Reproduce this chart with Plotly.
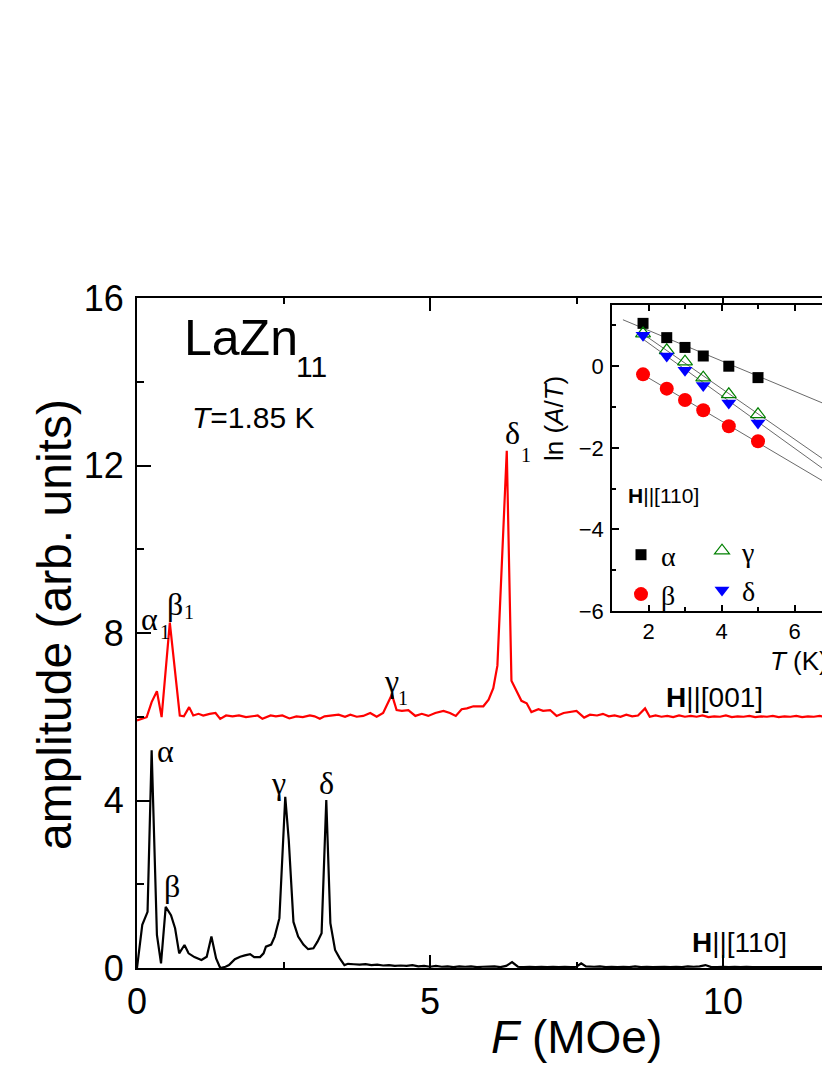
import numpy as np
import plotly.graph_objects as go

# ---- main panel: FFT spectra, F in MOe ----
f_110 = [0.00, 0.09, 0.18, 0.25, 0.34, 0.41, 0.49, 0.58, 0.65, 0.72, 0.81, 0.88, 0.98, 1.10,
         1.19, 1.27, 1.35, 1.42, 1.51, 1.57, 1.67, 1.76, 1.84, 1.93, 2.00, 2.10, 2.16, 2.20,
         2.29, 2.35, 2.43, 2.53, 2.59, 2.67, 2.75, 2.84, 2.92, 3.01, 3.08, 3.15, 3.23, 3.30,
         3.38, 3.46, 3.54, 3.60, 3.70, 3.80, 3.90, 4.00, 4.10, 4.20, 4.30, 4.40, 4.50, 4.60,
         4.70, 4.80, 4.90, 5.00, 5.10, 5.20, 5.30, 5.40, 5.50, 5.60, 5.70, 5.80, 5.90, 6.00,
         6.10, 6.20, 6.30, 6.40, 6.50, 6.60, 6.70, 6.80, 6.90, 7.00, 7.10, 7.20, 7.30, 7.40,
         7.50, 7.58, 7.66, 7.80, 7.90, 8.00, 8.10, 8.20, 8.30, 8.40, 8.50, 8.60, 8.70, 8.80,
         8.90, 9.00, 9.10, 9.20, 9.30, 9.40, 9.50, 9.60, 9.70, 9.80, 9.90, 10.0, 10.1, 10.2,
         10.3, 10.4, 10.5, 10.6, 10.7, 10.8, 10.9, 11.0, 11.1, 11.2, 11.3, 11.4, 11.5, 11.6,
         11.7, 11.8, 11.9]
amp_110 = [0.00, 1.03, 1.34, 5.20, 0.79, 0.11, 1.46, 1.26, 0.95, 0.35, 0.55, 0.35, 0.26, 0.19,
           0.27, 0.75, 0.23, 0.00, 0.03, 0.07, 0.21, 0.27, 0.30, 0.33, 0.26, 0.26, 0.35, 0.51,
           0.56, 0.75, 1.19, 4.09, 3.05, 1.10, 0.75, 0.56, 0.45, 0.47, 0.63, 0.83, 4.01, 1.07,
           0.43, 0.23, 0.07, 0.10, 0.09, 0.08, 0.09, 0.07, 0.08, 0.06, 0.07, 0.05, 0.06, 0.05,
           0.07, 0.04, 0.05, 0.03, 0.05, 0.03, 0.04, 0.02, 0.04, 0.03, 0.04, 0.02, 0.03, 0.03,
           0.04, 0.02, 0.05, 0.14, 0.03, 0.02, 0.03, 0.02, 0.03, 0.02, 0.03, 0.02, 0.03, 0.02,
           0.03, 0.11, 0.04, 0.03, 0.04, 0.02, 0.03, 0.02, 0.03, 0.02, 0.04, 0.02, 0.03, 0.02,
           0.03, 0.03, 0.02, 0.03, 0.02, 0.04, 0.03, 0.04, 0.07, 0.02, 0.02, 0.03, 0.02, 0.03,
           0.02, 0.03, 0.02, 0.02, 0.03, 0.02, 0.02, 0.03, 0.02, 0.02, 0.03, 0.02, 0.02, 0.03,
           0.02, 0.02, 0.02]

f_001 = [0.00, 0.08, 0.165, 0.25, 0.34, 0.42, 0.56, 0.73, 0.80, 0.89, 0.96, 1.05, 1.13, 1.24,
         1.34, 1.42, 1.52, 1.63, 1.74, 1.86, 1.94, 2.06, 2.14, 2.28, 2.37, 2.48, 2.60, 2.72,
         2.83, 2.95, 3.03, 3.12, 3.20, 3.29, 3.44, 3.55, 3.64, 3.75, 3.86, 3.98, 4.09, 4.20,
         4.35, 4.43, 4.52, 4.63, 4.75, 4.86, 4.97, 5.09, 5.23, 5.34, 5.44, 5.54, 5.63, 5.74,
         5.91, 6.00, 6.08, 6.15, 6.22, 6.31, 6.39, 6.48, 6.56, 6.65, 6.73, 6.85, 6.93, 7.05,
         7.16, 7.28, 7.39, 7.50, 7.63, 7.73, 7.85, 7.95, 8.05, 8.15, 8.25, 8.35, 8.45, 8.55,
         8.67, 8.75, 8.85, 8.95, 9.05, 9.15, 9.25, 9.35, 9.45, 9.55, 9.65, 9.75, 9.85, 9.95,
         10.05, 10.15, 10.25, 10.35, 10.45, 10.55, 10.65, 10.75, 10.85, 10.95, 11.05, 11.15,
         11.25, 11.35, 11.45, 11.55, 11.65, 11.75, 11.85]
amp_001 = [-0.04, 0.00, 0.04, 0.40, 0.66, 0.04, 2.30, 0.08, 0.06, 0.28, 0.08, 0.12, 0.08, 0.12,
           0.14, 0.00, 0.08, 0.06, 0.08, 0.04, 0.06, 0.08, 0.00, 0.08, 0.06, 0.08, 0.01, 0.06,
           0.04, 0.08, 0.06, 0.00, 0.06, 0.07, 0.10, 0.05, 0.10, 0.05, 0.07, 0.14, 0.05, 0.14,
           0.58, 0.21, 0.19, 0.21, 0.07, 0.12, 0.07, 0.14, 0.19, 0.14, 0.07, 0.23, 0.25, 0.30,
           0.30, 0.46, 0.73, 1.27, 3.50, 6.40, 0.91, 0.64, 0.43, 0.37, 0.16, 0.23, 0.19, 0.21,
           0.07, 0.14, 0.16, 0.19, 0.03, 0.10, 0.08, 0.12, 0.06, 0.08, 0.05, 0.10, 0.06, 0.08,
           0.25, 0.05, 0.08, 0.05, 0.07, 0.04, 0.08, 0.05, 0.07, 0.05, 0.08, 0.04, 0.06, 0.05,
           0.08, 0.04, 0.06, 0.05, 0.07, 0.04, 0.06, 0.05, 0.07, 0.04, 0.06, 0.05, 0.07, 0.04,
           0.06, 0.05, 0.07, 0.04, 0.10]
OFFSET_001 = 5.95

# ---- inset: ln(A/T) vs T, H||[110] ----
t_k = [1.85, 2.5, 3.0, 3.5, 4.2, 5.0, 7.0]
ln_alpha = [1.05, 0.70, 0.46, 0.25, 0.00, -0.28, -0.91]
ln_beta = [-0.20, -0.55, -0.83, -1.08, -1.47, -1.84, -2.94]
ln_gamma = [0.80, 0.39, 0.11, -0.28, -0.69, -1.18, -2.39]
ln_delta = [0.76, 0.25, -0.10, -0.47, -0.90, -1.39, -2.59]

SANS = "Liberation Sans, Arial, sans-serif"
SERIF = "Liberation Serif, Times New Roman, serif"

# the page puts the figure 8 px in from the corner; frame below is in page pixels
PAGE = 8
W, H = 830, 1075
FIG_H = H - 2 * PAGE
L, R, T, B = 137, 830, 298, 968


def px(x):
    return (x - L) / (R - L)


def py(y):
    return (B - y) / (B - T)


fig = go.Figure()

fig.add_trace(go.Scatter(x=f_001, y=np.array(amp_001) + OFFSET_001, mode="lines",
                         line=dict(color="#ff0000", width=2.2), showlegend=False))
fig.add_trace(go.Scatter(x=f_110, y=amp_110, mode="lines",
                         line=dict(color="#000000", width=2.2), showlegend=False))

# inset fit lines
fit_start = {"a": 1.3, "b": 1.85, "g": 1.8, "d": 1.85}
for key, vals in [("a", ln_alpha), ("b", ln_beta), ("g", ln_gamma), ("d", ln_delta)]:
    k, c = np.polyfit(t_k, vals, 1)
    tt = np.array([fit_start[key], 10.0])
    fig.add_trace(go.Scatter(x=tt, y=k * tt + c, mode="lines", xaxis="x2", yaxis="y2",
                             line=dict(color="#6a6a6a", width=1), showlegend=False))

marker_sets = [
    ("α", ln_alpha, dict(symbol="square", size=11, color="#000000"), "legend", 1),
    ("β", ln_beta, dict(symbol="circle", size=14, color="#ff0000"), "legend", 2),
    ("γ", ln_gamma, dict(symbol="triangle-up-open", size=13, color="#008000",
                         line=dict(width=1.2, color="#008000")), "legend2", 1),
    ("δ", ln_delta, dict(symbol="triangle-down", size=13, color="#0000ff"), "legend2", 2),
]
for name, vals, mk, leg, rank in marker_sets:
    fig.add_trace(go.Scatter(x=t_k, y=vals, mode="markers", name=name, xaxis="x2", yaxis="y2",
                             marker=mk, legend=leg, legendrank=rank, cliponaxis=False))

axis_common = dict(showline=True, linecolor="black", ticks="inside", tickcolor="black",
                   showgrid=False, zeroline=False)

fig.update_layout(
    width=W - PAGE, height=FIG_H,
    margin=dict(l=L - PAGE, r=W - R, t=T - PAGE, b=FIG_H + PAGE - B, autoexpand=False),
    paper_bgcolor="white", plot_bgcolor="white",
    font=dict(family=SANS, color="black"),
    xaxis=dict(**axis_common, range=[0, (R - L) / 58.6], dtick=5, tick0=0, linewidth=2,
               ticklen=13, tickwidth=2, mirror="ticks",
               minor=dict(ticks="inside", dtick=2.5, ticklen=6, tickwidth=2, tickcolor="black"),
               tickfont=dict(size=36, family=SANS), ticklabelstandoff=1),
    yaxis=dict(**axis_common, range=[0, 16], dtick=4, tick0=0, linewidth=2,
               ticklen=14, tickwidth=2,
               minor=dict(ticks="inside", dtick=2, ticklen=7, tickwidth=2, tickcolor="black"),
               tickfont=dict(size=36, family=SANS), ticklabelstandoff=4),
    xaxis2=dict(**axis_common, domain=[px(612), 1.0], anchor="y2",
                range=[1, 1 + (R - 612) / 36.5], dtick=2, tick0=0, linewidth=1.5,
                ticklen=6, tickwidth=1.5, mirror="ticks",
                minor=dict(ticks="inside", dtick=1, ticklen=4, tickwidth=1.5, tickcolor="black"),
                tickfont=dict(size=22, family=SANS), ticklabelstandoff=0),
    yaxis2=dict(**axis_common, domain=[py(611), py(305)], anchor="x2",
                range=[-6, 1.5], dtick=2, tick0=0, linewidth=1.5,
                ticklen=7, tickwidth=1.5,
                minor=dict(ticks="inside", dtick=1, ticklen=4, tickwidth=1.5, tickcolor="black"),
                tickfont=dict(size=22, family=SANS), ticklabelstandoff=2),
    legend=dict(x=px(621), y=py(530), xanchor="left", yanchor="top", bgcolor="rgba(0,0,0,0)",
                font=dict(family=SERIF, size=28), itemsizing="trace", tracegroupgap=0),
    legend2=dict(x=px(702), y=py(526), xanchor="left", yanchor="top", bgcolor="rgba(0,0,0,0)",
                 font=dict(family=SERIF, size=28), itemsizing="trace", tracegroupgap=0),
)


def note(text, x, y, size, family=SANS, xref="paper", yref="paper", angle=0):
    fig.add_annotation(text=text, x=x, y=y, xref=xref, yref=yref, showarrow=False,
                       xanchor="center", yanchor="middle", textangle=angle,
                       font=dict(size=size, family=family, color="black"))


# axis titles
note("amplitude (arb. units)", px(54), py(625), 48, angle=-90)
note("<i>F</i> (MOe)", px(576), py(1037), 46)
note("ln (<i>A</i>/<i>T</i>)", px(554), py(419), 26, angle=-90)
note("<i>T</i> (K)", px(799), py(661), 26)

# sample and condition
note("LaZn", px(241), py(338), 50)
note("11", px(311), py(366), 30)
note("<i>T</i>=1.85 K", px(253), py(417), 30)

# field directions
note("<b>H</b>||[001]", px(714), py(697), 28)
note("<b>H</b>||[110]", px(739), py(942), 28)
note("<b>H</b>||[110]", px(663), py(495), 21)

# peak labels (data coordinates)
peak_labels = [
    ("α", 0.48, 5.18), ("β", 0.60, 1.96), ("γ", 2.41, 4.42), ("δ", 3.23, 4.42),
    ("α", 0.22, 8.33), ("β", 0.65, 8.69), ("γ", 4.35, 6.85), ("δ", 6.40, 12.78),
]
for txt, fx, ay in peak_labels:
    note(txt, fx, ay, 32, family=SERIF, xref="x", yref="y")
for fx, ay in [(0.48, 8.02), (0.89, 8.5), (4.54, 6.45), (6.64, 12.25)]:
    note("1", fx, ay, 20, family=SERIF, xref="x", yref="y")

fig.write_html("out.html")
